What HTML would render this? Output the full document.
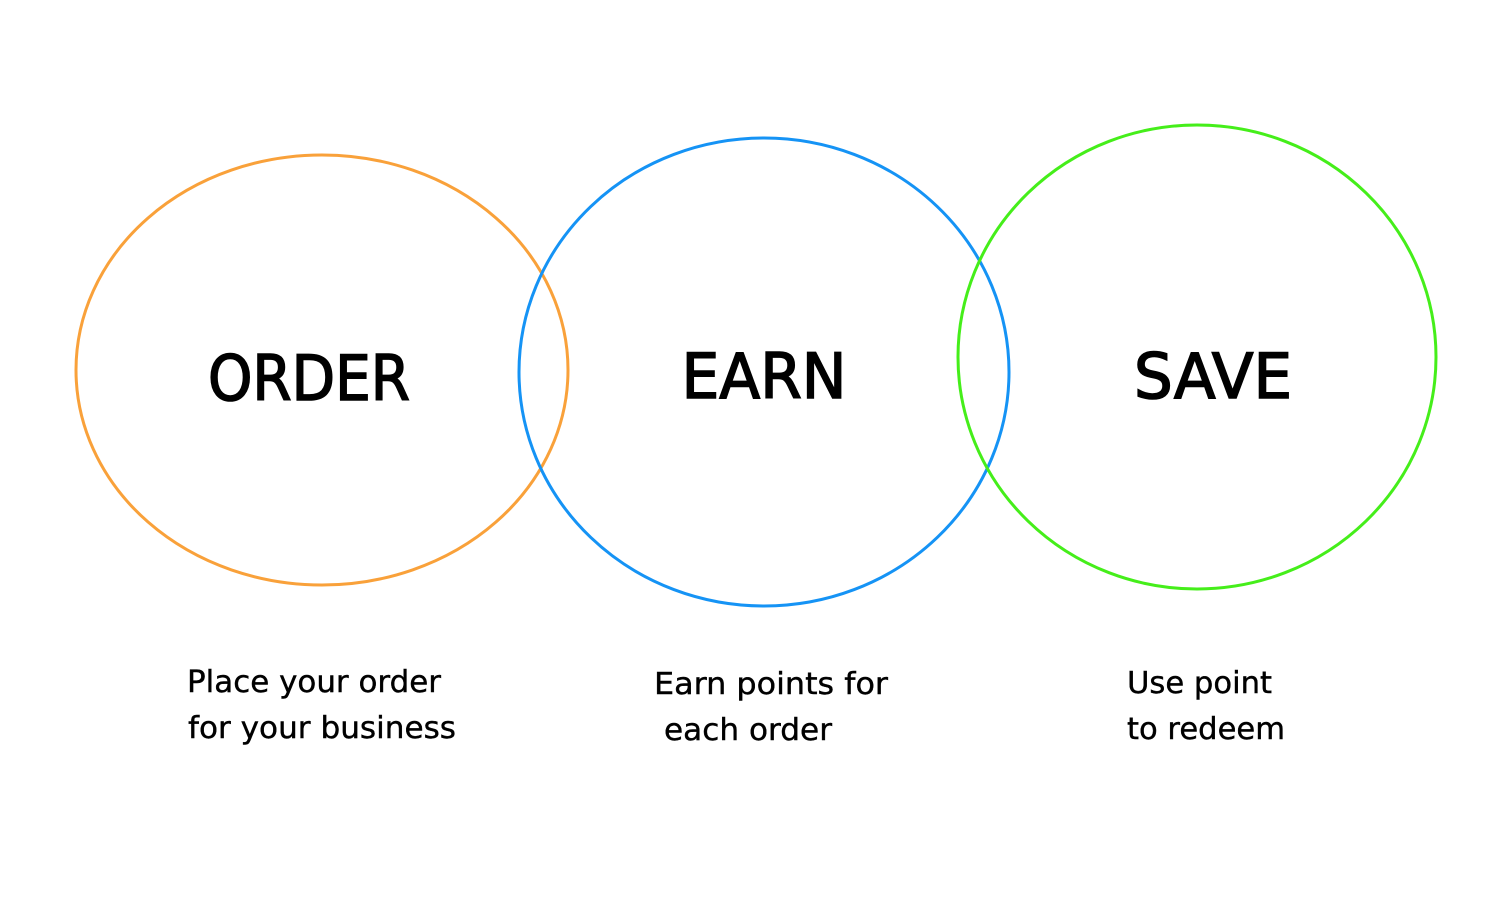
<!DOCTYPE html>
<html><head><meta charset="utf-8"><style>
html,body{margin:0;padding:0;background:#fff;width:1500px;height:900px;overflow:hidden}
</style></head><body>
<svg width="1500" height="900" viewBox="0 0 1500 900" xmlns="http://www.w3.org/2000/svg">
<rect width="1500" height="900" fill="#fff"/>
<ellipse cx="322" cy="370" rx="246" ry="215" fill="none" stroke="#f9a13a" stroke-width="3"/>
<ellipse cx="764" cy="372" rx="245" ry="234" fill="none" stroke="#1593f5" stroke-width="3"/>
<ellipse cx="1197" cy="357" rx="239" ry="232" fill="none" stroke="#45ee1a" stroke-width="3"/>
<g font-family="'DejaVu Sans','Liberation Sans',sans-serif" fill="#000" stroke="#000">
<g stroke-width="1.6">
<text x="309" y="400" font-size="62" text-anchor="middle" textLength="202" lengthAdjust="spacingAndGlyphs">ORDER</text>
<text x="764" y="398" font-size="62" text-anchor="middle" textLength="165" lengthAdjust="spacingAndGlyphs">EARN</text>
<text x="1213" y="398" font-size="62" text-anchor="middle" textLength="158" lengthAdjust="spacingAndGlyphs">SAVE</text>
</g>
<g font-size="30" stroke-width="0.4">
<text x="187" y="692" textLength="254" lengthAdjust="spacingAndGlyphs">Place your order</text>
<text x="188" y="738" textLength="268" lengthAdjust="spacingAndGlyphs">for your business</text>
<text x="654" y="694" textLength="234" lengthAdjust="spacingAndGlyphs">Earn points for</text>
<text x="664" y="740" textLength="168" lengthAdjust="spacingAndGlyphs">each order</text>
<text x="1127" y="693" textLength="145" lengthAdjust="spacingAndGlyphs">Use point</text>
<text x="1127" y="739" textLength="158" lengthAdjust="spacingAndGlyphs">to redeem</text>
</g></g>
</svg>
</body></html>
